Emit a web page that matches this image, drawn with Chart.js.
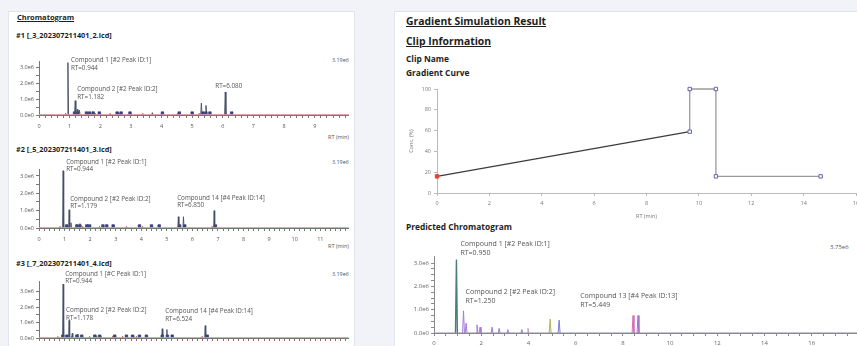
<!DOCTYPE html>
<html>
<head>
<meta charset="utf-8">
<script src="https://cdn.jsdelivr.net/npm/chart.js@4.4.0/dist/chart.umd.min.js"></script>
<style>
html, body { margin: 0; width: 857px; height: 346px; overflow: hidden; background: #f1f3f8; font-family: "Open Sans", "Noto Sans", sans-serif; }
.panel { position: absolute; background: #fff; border: 1px solid #e1e4eb; }
.t { position: absolute; white-space: nowrap; color: #1e1e1e; }
.h1 { font-weight: 700; font-size: 10.4px; line-height: 12px; text-decoration: underline; }
.h2 { font-weight: 700; font-size: 8.4px; line-height: 10px; }
.h3 { font-weight: 700; font-size: 7.3px; line-height: 8px; }
.s { font-size: 5.5px; line-height: 6px; color: #555; }
canvas { position: absolute; }
</style>
</head>
<body>
<div class="panel" style="left:8px;top:11px;width:345px;height:345px"></div>
<div class="panel" style="left:394px;top:11px;width:475px;height:345px"></div>

<div class="t h2" style="left:17px;top:12px;font-size:7.5px;text-decoration:underline">Chromatogram</div>
<div class="t h3" style="left:16px;top:31px">#1 [_3_202307211401_2.lcd]</div>
<div class="t h3" style="left:16px;top:145px">#2 [_5_202307211401_3.lcd]</div>
<div class="t h3" style="left:16px;top:259px">#3 [_7_202307211401_4.lcd]</div>
<div class="t s" style="right:508px;top:57px">3.19e6</div>
<div class="t s" style="right:508px;top:159px">3.19e6</div>
<div class="t s" style="right:508px;top:271px">3.19e6</div>
<div class="t s" style="right:508px;top:134px">RT (min)</div>
<div class="t s" style="right:508px;top:243px">RT (min)</div>

<div class="t h1" style="left:406px;top:15px">Gradient Simulation Result</div>
<div class="t h1" style="left:406px;top:35px">Clip Information</div>
<div class="t h2" style="left:406px;top:54px">Clip Name</div>
<div class="t h2" style="left:406px;top:68px">Gradient Curve</div>
<div class="t h2" style="left:406px;top:222px">Predicted Chromatogram</div>
<div class="t s" style="left:830px;top:244px;font-size:6px">3.75e6</div>

<canvas id="chrom1" width="345" height="82" style="left:8px;top:50px"></canvas>
<canvas id="chrom2" width="345" height="90" style="left:8px;top:155px"></canvas>
<canvas id="chrom3" width="345" height="89" style="left:8px;top:266px"></canvas>
<canvas id="gradient" width="480" height="141" style="left:395px;top:82px"></canvas>
<canvas id="predicted" width="480" height="124" style="left:395px;top:236px"></canvas>

<script>
Chart.defaults.font.family = '"Open Sans", "Noto Sans", sans-serif';
Chart.defaults.color = '#666';

// #1 chromatogram
const c1PeakRt = [0.944, 1.182, 1.25, 1.32, 1.55, 1.75, 2.6, 2.7, 3.0, 3.7, 4.0, 4.6, 5.0, 5.30, 5.45, 5.58, 6.08, 6.3];
const c1PeakHeight = [3.3e6, 0.9e6, 0.35e6, 0.3e6, 0.15e6, 0.2e6, 0.15e6, 0.12e6, 0.1e6, 0.15e6, 0.1e6, 0.12e6, 0.1e6, 0.75e6, 0.6e6, 0.15e6, 1.45e6, 0.12e6];
const c1BlueMarks = [1.16, 1.26, 1.55, 1.65, 1.77, 1.97, 2.55, 2.68, 2.97, 4.03, 4.58, 5.0, 5.35, 5.45, 5.58, 6.29];
const c1RedMarks = [0.87, 1.19, 1.29, 1.74, 1.84, 2.32, 2.65, 3.39, 4.0, 4.52, 5.23, 6.1];

// #2 chromatogram
const c2PeakRt = [0.944, 1.179, 1.25, 1.48, 1.6, 1.9, 2.5, 2.65, 2.9, 3.9, 4.4, 4.7, 5.45, 5.65, 6.85];
const c2PeakHeight = [3.3e6, 1.05e6, 0.3e6, 0.2e6, 0.25e6, 0.2e6, 0.15e6, 0.15e6, 0.1e6, 0.12e6, 0.1e6, 0.1e6, 0.65e6, 0.65e6, 1.0e6];
const c2BlueMarks = [1.08, 1.48, 1.6, 1.87, 1.98, 2.5, 2.65, 2.9, 3.93, 4.4, 4.7, 5.5, 5.7, 6.9];
const c2RedMarks = [0.82, 1.13, 1.71, 2.37, 2.88, 3.42, 4.05, 5.49, 6.77];

// #3 chromatogram
const c3PeakRt = [0.944, 1.178, 1.3, 1.5, 1.7, 2.2, 2.4, 3.0, 3.4, 3.7, 4.2, 4.82, 5.0, 6.5];
const c3PeakHeight = [3.5e6, 1.15e6, 0.3e6, 0.25e6, 0.2e6, 0.2e6, 0.15e6, 0.1e6, 0.12e6, 0.15e6, 0.1e6, 0.6e6, 0.55e6, 0.8e6];
const c3BlueMarks = [0.93, 1.09, 1.48, 1.67, 2.18, 2.37, 2.96, 3.42, 3.66, 3.93, 4.2, 4.82, 5.02, 5.21, 6.58];
const c3RedMarks = [0.74, 1.28, 1.52, 1.98, 2.26, 2.88, 3.27, 3.81, 4.79, 6.38];

// gradient curve
const gradTime = [0, 9.65, 9.65, 10.65, 10.65, 14.65];
const gradConc = [16, 59, 100, 100, 16, 16];

// predicted chromatogram
const predPeakRt = [0.95, 1.25, 1.36, 1.82, 1.95, 2.46, 2.76, 3.13, 3.72, 3.98, 4.92, 5.30, 8.43, 8.64];
const predPeakHeight = [3.15e6, 0.95e6, 0.42e6, 0.35e6, 0.25e6, 0.25e6, 0.2e6, 0.15e6, 0.15e6, 0.2e6, 0.6e6, 0.55e6, 0.75e6, 0.75e6];
const predColors = ['#4a7d7b', '#a37ad8', '#a37ad8', '#b07ac8', '#a37ad8', '#9a80d0', '#a37ad8', '#a88ad8', '#a37ad8', '#c0a0c0', '#b8b050', '#7a7ad8', '#d070b0', '#a070d0'];

// tick values
const intensityTicks = [0, 1e6, 2e6, 3e6];
const concTicks = [0, 20, 40, 60, 80, 100];

function peakTrace(rt, ht, w) {
    const pts = [{ x: 0, y: 0 }];
    rt.forEach((r, i) => pts.push({ x: r - w, y: 0 }, { x: r, y: ht[i] }, { x: r + w, y: 0 }));
    pts.push({ x: 40, y: 0 });
    return pts;
}

function sciLabel(v) {
    return v === 0 ? '0.0e0' : (v / 1e6).toFixed(1) + 'e6';
}

function minorTicks(max, step) {
    const t = [];
    for (let i = 0; i * step <= max + 1e-9; i++) t.push({ value: Math.round(i * step * 1000) / 1000 });
    return t;
}

// draws the peak captions next to their peaks
const peakLabels = {
    id: 'peakLabels',
    afterDatasetsDraw(chart, args, opts) {
        const { ctx, scales: { x, y } } = chart;
        ctx.save();
        ctx.font = opts.size + 'px "Open Sans", sans-serif';
        ctx.fillStyle = '#555';
        ctx.textBaseline = 'middle';
        opts.items.forEach(it => {
            const px = x.getPixelForValue(it.x) + it.dx;
            const py = y.getPixelForValue(it.y) + it.dy;
            it.lines.forEach((s, i) => ctx.fillText(s, px, py + i * opts.gap));
        });
        ctx.restore();
    }
};

function chromChart(id, rt, ht, blue, red, o) {
    const axisColor = '#777';
    new Chart(document.getElementById(id), {
        type: 'line',
        data: {
            datasets: [
                { data: [{ x: 0, y: 0 }, { x: 40, y: 0 }], borderColor: '#eaa6a6', borderWidth: 1.5, pointRadius: 0 },
                { data: peakTrace(rt, ht, 0.022), borderColor: '#444d68', borderWidth: 0.9, pointRadius: 0, tension: 0 },
                { data: blue.map(v => ({ x: v, y: 0.12e6 })), showLine: false, pointStyle: 'rect', pointRadius: 1.8, backgroundColor: '#3344a0', borderColor: '#222a66', borderWidth: 0.6 },
                { data: red.map(v => ({ x: v, y: 0 })), showLine: false, pointStyle: 'triangle', pointRadius: 1.7, backgroundColor: '#d33', borderColor: '#a22', borderWidth: 0.5 }
            ]
        },
        options: {
            responsive: false,
            animation: false,
            layout: { padding: { top: o.padTop, right: 3, left: 0, bottom: 0 } },
            plugins: {
                legend: { display: false },
                tooltip: { enabled: false },
                peakLabels: { items: o.labels, size: 6.3, gap: 7.5 }
            },
            scales: {
                x: {
                    type: 'linear', min: 0, max: o.xMax,
                    afterBuildTicks: s => { s.ticks = minorTicks(o.xMax, 0.2); },
                    afterFit: s => { s.height = 17; },
                    ticks: {
                        autoSkip: false, maxRotation: 0, padding: 5, font: { size: 5.5 }, color: '#555',
                        callback: v => (Math.abs(v - Math.round(v)) < 1e-6 && v < o.xLabelMax) ? String(Math.round(v)) : ''
                    },
                    grid: { drawOnChartArea: false, tickLength: 3, color: axisColor },
                    border: { color: axisColor }
                },
                y: {
                    min: 0, max: o.yMax,
                    afterBuildTicks: s => { s.ticks = minorTicks(3e6, 0.5e6); },
                    afterFit: s => { s.width = 31; },
                    ticks: {
                        autoSkip: false, padding: 2, font: { size: 5.5 }, color: '#555',
                        callback: v => intensityTicks.includes(v) ? sciLabel(v) : ''
                    },
                    grid: { drawOnChartArea: false, tickLength: 3, color: axisColor },
                    border: { color: axisColor }
                }
            }
        },
        plugins: [peakLabels]
    });
}

chromChart('chrom1', c1PeakRt, c1PeakHeight, c1BlueMarks, c1RedMarks, {
    padTop: 11, xMax: 10.1, xLabelMax: 10, yMax: 3.4e6,
    labels: [
        { x: c1PeakRt[0], y: c1PeakHeight[0], dx: 3, dy: -2, lines: ['Compound 1 [#2 Peak ID:1]', 'RT=0.944'] },
        { x: c1PeakRt[1], y: c1PeakHeight[1], dx: 2, dy: -11, lines: ['Compound 2 [#2 Peak ID:2]', 'RT=1.182'] },
        { x: c1PeakRt[16], y: c1PeakHeight[16], dx: -10, dy: -6, lines: ['RT=6.080'] }
    ]
});

chromChart('chrom2', c2PeakRt, c2PeakHeight, c2BlueMarks, c2RedMarks, {
    padTop: 14, xMax: 12.1, xLabelMax: 12, yMax: 3.4e6,
    labels: [
        { x: c2PeakRt[0], y: c2PeakHeight[0], dx: 3, dy: -9, lines: ['Compound 1 [#2 Peak ID:1]', 'RT=0.944'] },
        { x: c2PeakRt[1], y: c2PeakHeight[1], dx: 1, dy: -11, lines: ['Compound 2 [#2 Peak ID:2]', 'RT=1.179'] },
        { x: c2PeakRt[14], y: c2PeakHeight[14], dx: -37, dy: -12.5, lines: ['Compound 14 [#4 Peak ID:14]', 'RT=6.850'] }
    ]
});

chromChart('chrom3', c3PeakRt, c3PeakHeight, c3BlueMarks, c3RedMarks, {
    padTop: 15, xMax: 12.1, xLabelMax: 12, yMax: 3.7e6,
    labels: [
        { x: c3PeakRt[0], y: c3PeakHeight[0], dx: 2, dy: -10, lines: ['Compound 1 [#C Peak ID:1]', 'RT=0.944'] },
        { x: c3PeakRt[1], y: c3PeakHeight[1], dx: -3, dy: -10, lines: ['Compound 2 [#2 Peak ID:2]', 'RT=1.178'] },
        { x: c3PeakRt[13], y: c3PeakHeight[13], dx: -40, dy: -14, lines: ['Compound 14 [#4 Peak ID:14]', 'RT=6.524'] }
    ]
});

// gradient curve
new Chart(document.getElementById('gradient'), {
    type: 'line',
    data: {
        datasets: [{
            data: gradTime.map((t, i) => ({ x: t, y: gradConc[i] })),
            borderWidth: 1.3,
            tension: 0,
            clip: 5,
            segment: { borderColor: c => c.p0DataIndex === 0 ? '#3c3c3c' : '#9b9b9b' },
            pointStyle: 'rect',
            pointRadius: 2.4,
            pointBorderWidth: 1,
            pointBackgroundColor: c => c.dataIndex === 0 ? '#e0442f' : '#fff',
            pointBorderColor: c => c.dataIndex === 0 ? '#e0442f' : '#6464a8'
        }]
    },
    options: {
        responsive: false,
        animation: false,
        layout: { padding: { top: 7, right: 19, left: 0, bottom: 0 } },
        plugins: { legend: { display: false }, tooltip: { enabled: false } },
        scales: {
            x: {
                type: 'linear', min: 0, max: 16,
                afterFit: s => { s.height = 30; },
                ticks: { stepSize: 2, maxRotation: 0, padding: 4, font: { size: 5.5 }, color: '#777' },
                grid: { drawOnChartArea: false, tickLength: 3, color: '#bbb' },
                border: { color: '#bbb' },
                title: { display: true, text: 'RT (min)', font: { size: 5.5 }, color: '#777', padding: { top: 0, bottom: 3.5 } }
            },
            y: {
                min: 0, max: 100,
                afterBuildTicks: s => { s.ticks = concTicks.map(v => ({ value: v })); },
                afterFit: s => { s.width = 42; },
                ticks: { padding: 3, font: { size: 5.5 }, color: '#777' },
                grid: { drawOnChartArea: false, tickLength: 3, color: '#bbb' },
                border: { color: '#bbb' },
                title: { display: true, text: 'Conc. (%)', font: { size: 5.5 }, color: '#777', padding: { top: 13.5, bottom: 0 } }
            }
        }
    }
});

// predicted chromatogram, one trace per peak
const predSets = predPeakRt.map((r, i) => ({
    data: [{ x: r - 0.04, y: 0 }, { x: r, y: predPeakHeight[i] }, { x: r + 0.04, y: 0 }],
    borderColor: predColors[i], borderWidth: i === 0 ? 1.4 : 1, pointRadius: 0, tension: 0
}));
predSets.unshift({ data: [{ x: 0, y: 0 }, { x: 40, y: 0 }], borderColor: '#8f8fb6', borderWidth: 1, pointRadius: 0 });

new Chart(document.getElementById('predicted'), {
    type: 'line',
    data: { datasets: predSets },
    options: {
        responsive: false,
        animation: false,
        layout: { padding: { top: 20, right: 16, left: 0, bottom: 0 } },
        plugins: {
            legend: { display: false },
            tooltip: { enabled: false },
            peakLabels: {
                size: 7, gap: 9,
                items: [
                    { x: predPeakRt[0], y: predPeakHeight[0], dx: 4, dy: -16, lines: ['Compound 1 [#2 Peak ID:1]', 'RT=0.950'] },
                    { x: predPeakRt[1], y: predPeakHeight[1], dx: 2, dy: -18.5, lines: ['Compound 2 [#2 Peak ID:2]', 'RT=1.250'] },
                    { x: predPeakRt[11], y: predPeakHeight[11], dx: 21, dy: -24, lines: ['Compound 13 [#4 Peak ID:13]', 'RT=5.449'] }
                ]
            }
        },
        scales: {
            x: {
                type: 'linear', min: 0, max: 18,
                afterBuildTicks: s => { s.ticks = minorTicks(18, 0.5); },
                afterFit: s => { s.height = 27; },
                ticks: {
                    autoSkip: false, maxRotation: 0, padding: 4, font: { size: 6 }, color: '#666',
                    callback: v => (v % 2 === 0 && v < 18) ? String(v) : ''
                },
                grid: { drawOnChartArea: false, tickLength: 3, color: '#888' },
                border: { color: '#888' }
            },
            y: {
                min: 0, max: 3.3e6,
                afterBuildTicks: s => { s.ticks = minorTicks(3e6, 0.25e6); },
                afterFit: s => { s.width = 39; },
                ticks: {
                    autoSkip: false, padding: 2, font: { size: 6 }, color: '#666',
                    callback: v => intensityTicks.includes(v) ? sciLabel(v) : ''
                },
                grid: { drawOnChartArea: false, tickLength: 3, color: '#888' },
                border: { color: '#888' }
            }
        }
    },
    plugins: [peakLabels]
});
</script>
</body>
</html>
